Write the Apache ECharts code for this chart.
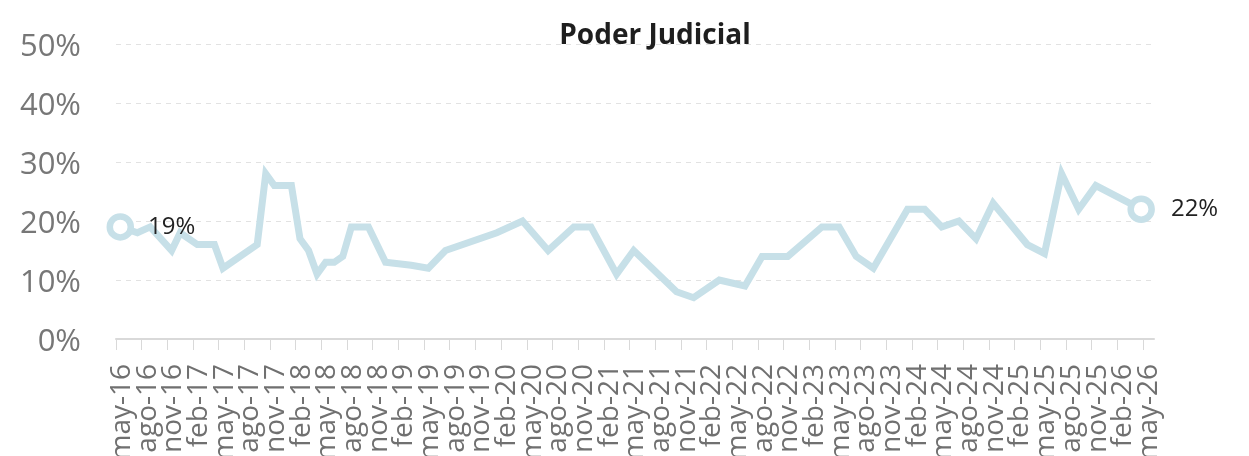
<!DOCTYPE html>
<html>
<head>
<meta charset="utf-8">
<script src="https://cdn.jsdelivr.net/npm/echarts@6/dist/echarts.min.js"></script>
<style>
  html, body { margin: 0; padding: 0; background: #fff; }
  #chart { width: 1249px; height: 456px; }
</style>
</head>
<body>
<div id="chart"></div>
<script>
// x = months since may-16 (survey dates fall mid-month)
const months = [0.5, 2.5, 4, 6.5, 7.5, 9.5, 11.5, 12.5, 16.5, 17.5, 18.5, 20.5, 21.5, 22.5, 23.5, 24.5, 25.5, 26.5, 27.5, 29.5,
  31.5, 34.5, 36.5, 38.5, 44.5, 47.5, 50.5, 53.5, 55.5, 58.5, 60.5, 65.5, 67.5, 70.5, 73.5, 75.5, 78.5, 82.5, 84.5, 86.5,
  88.5, 92.5, 94.5, 96.5, 98.5, 100.5, 102.5, 106.5, 108.5, 110.5, 112.5, 114.5, 119.8];
const values = [19, 18, 19, 15, 18, 16, 16, 12, 16, 28, 26, 26, 17, 15, 11, 13, 13, 14, 19, 19,
  13, 12.5, 12, 15, 18, 20, 15, 19, 19, 11, 15, 8, 7, 10, 9, 14, 14, 19, 19, 14,
  12, 22, 22, 19, 20, 17, 23, 16, 14.5, 28, 22, 26, 22];
const tickLabels = [
  'may-16', 'ago-16', 'nov-16', 'feb-17', 'may-17', 'ago-17', 'nov-17', 'feb-18', 'may-18', 'ago-18', 'nov-18',
  'feb-19', 'may-19', 'ago-19', 'nov-19', 'feb-20', 'may-20', 'ago-20', 'nov-20', 'feb-21', 'may-21', 'ago-21',
  'nov-21', 'feb-22', 'may-22', 'ago-22', 'nov-22', 'feb-23', 'may-23', 'ago-23', 'nov-23', 'feb-24', 'may-24',
  'ago-24', 'nov-24', 'feb-25', 'may-25', 'ago-25', 'nov-25', 'feb-26', 'may-26'
];

const LINE = '#c7e0e8';
const FONT = '"Open Sans", "Noto Sans", sans-serif';
const tickValues = tickLabels.map((_, i) => i * 3);
// labels are packed tight, so they are split over two stacked axes to stop echarts hiding neighbours
const evenValues = tickValues.filter((_, i) => i % 2 === 0);
const oddValues = tickValues.filter((_, i) => i % 2 === 1);

const lastIdx = values.length - 1;
const seriesData = months.map((m, i) => {
  const item = { value: [m, values[i]] };
  if (i === 0 || i === lastIdx) {
    item.symbol = 'circle';
    item.symbolSize = 21;
    item.itemStyle = { color: '#fff', borderColor: LINE, borderWidth: 6.5 };
    item.label = {
      show: true, position: 'right', distance: i === 0 ? 14 : 16,
      formatter: p => Math.round(p.value[1]) + '%',
      fontSize: 24, color: '#222', fontFamily: FONT
    };
  } else {
    item.symbol = 'none';
  }
  return item;
});

function xLabel(vals) {
  return {
    customValues: vals,
    showMinLabel: true, showMaxLabel: true, hideOverlap: false,
    formatter: v => tickLabels[Math.round(v / 3)],
    rotate: 90, margin: 25, fontSize: 28, color: '#707070', fontFamily: FONT,
    verticalAlign: 'top', lineHeight: 12
  };
}

const chart = echarts.init(document.getElementById('chart'));
chart.setOption({
  animation: false,
  title: {
    text: 'Poder Judicial',
    left: 650, top: 17, textAlign: 'center',
    textStyle: { fontSize: 28, fontWeight: 'bold', color: '#1e1e1e', fontFamily: FONT }
  },
  grid: { left: 116, right: 95, top: 44, bottom: 117, containLabel: false, outerBoundsMode: 'none' },
  xAxis: [{
    type: 'value', min: 0, max: 121.3, position: 'bottom',
    axisLine: { show: true, lineStyle: { color: '#d9d9d9', width: 2 } },
    axisTick: { show: true, length: 11, customValues: tickValues, lineStyle: { color: '#d9d9d9', width: 1 } },
    axisLabel: xLabel(evenValues),
    splitLine: { show: false }
  }, {
    type: 'value', min: 0, max: 121.3, position: 'bottom', offset: 0,
    axisLine: { show: false },
    axisTick: { show: false },
    axisLabel: xLabel(oddValues),
    splitLine: { show: false }
  }],
  yAxis: {
    type: 'value', min: 0, max: 50, interval: 10,
    axisLine: { show: false },
    axisTick: { show: false },
    axisLabel: {
      formatter: '{value}%', margin: 35, fontSize: 31, color: '#777', fontFamily: FONT,
      verticalAlign: 'top', lineHeight: 6
    },
    splitLine: { lineStyle: { color: '#e2e2e2', type: [5, 5], width: 1 } }
  },
  series: [{
    type: 'line',
    xAxisIndex: 0,
    data: seriesData,
    lineStyle: { color: LINE, width: 7, join: 'miter' },
    itemStyle: { color: LINE },
    z: 3
  }]
});
</script>
</body>
</html>
